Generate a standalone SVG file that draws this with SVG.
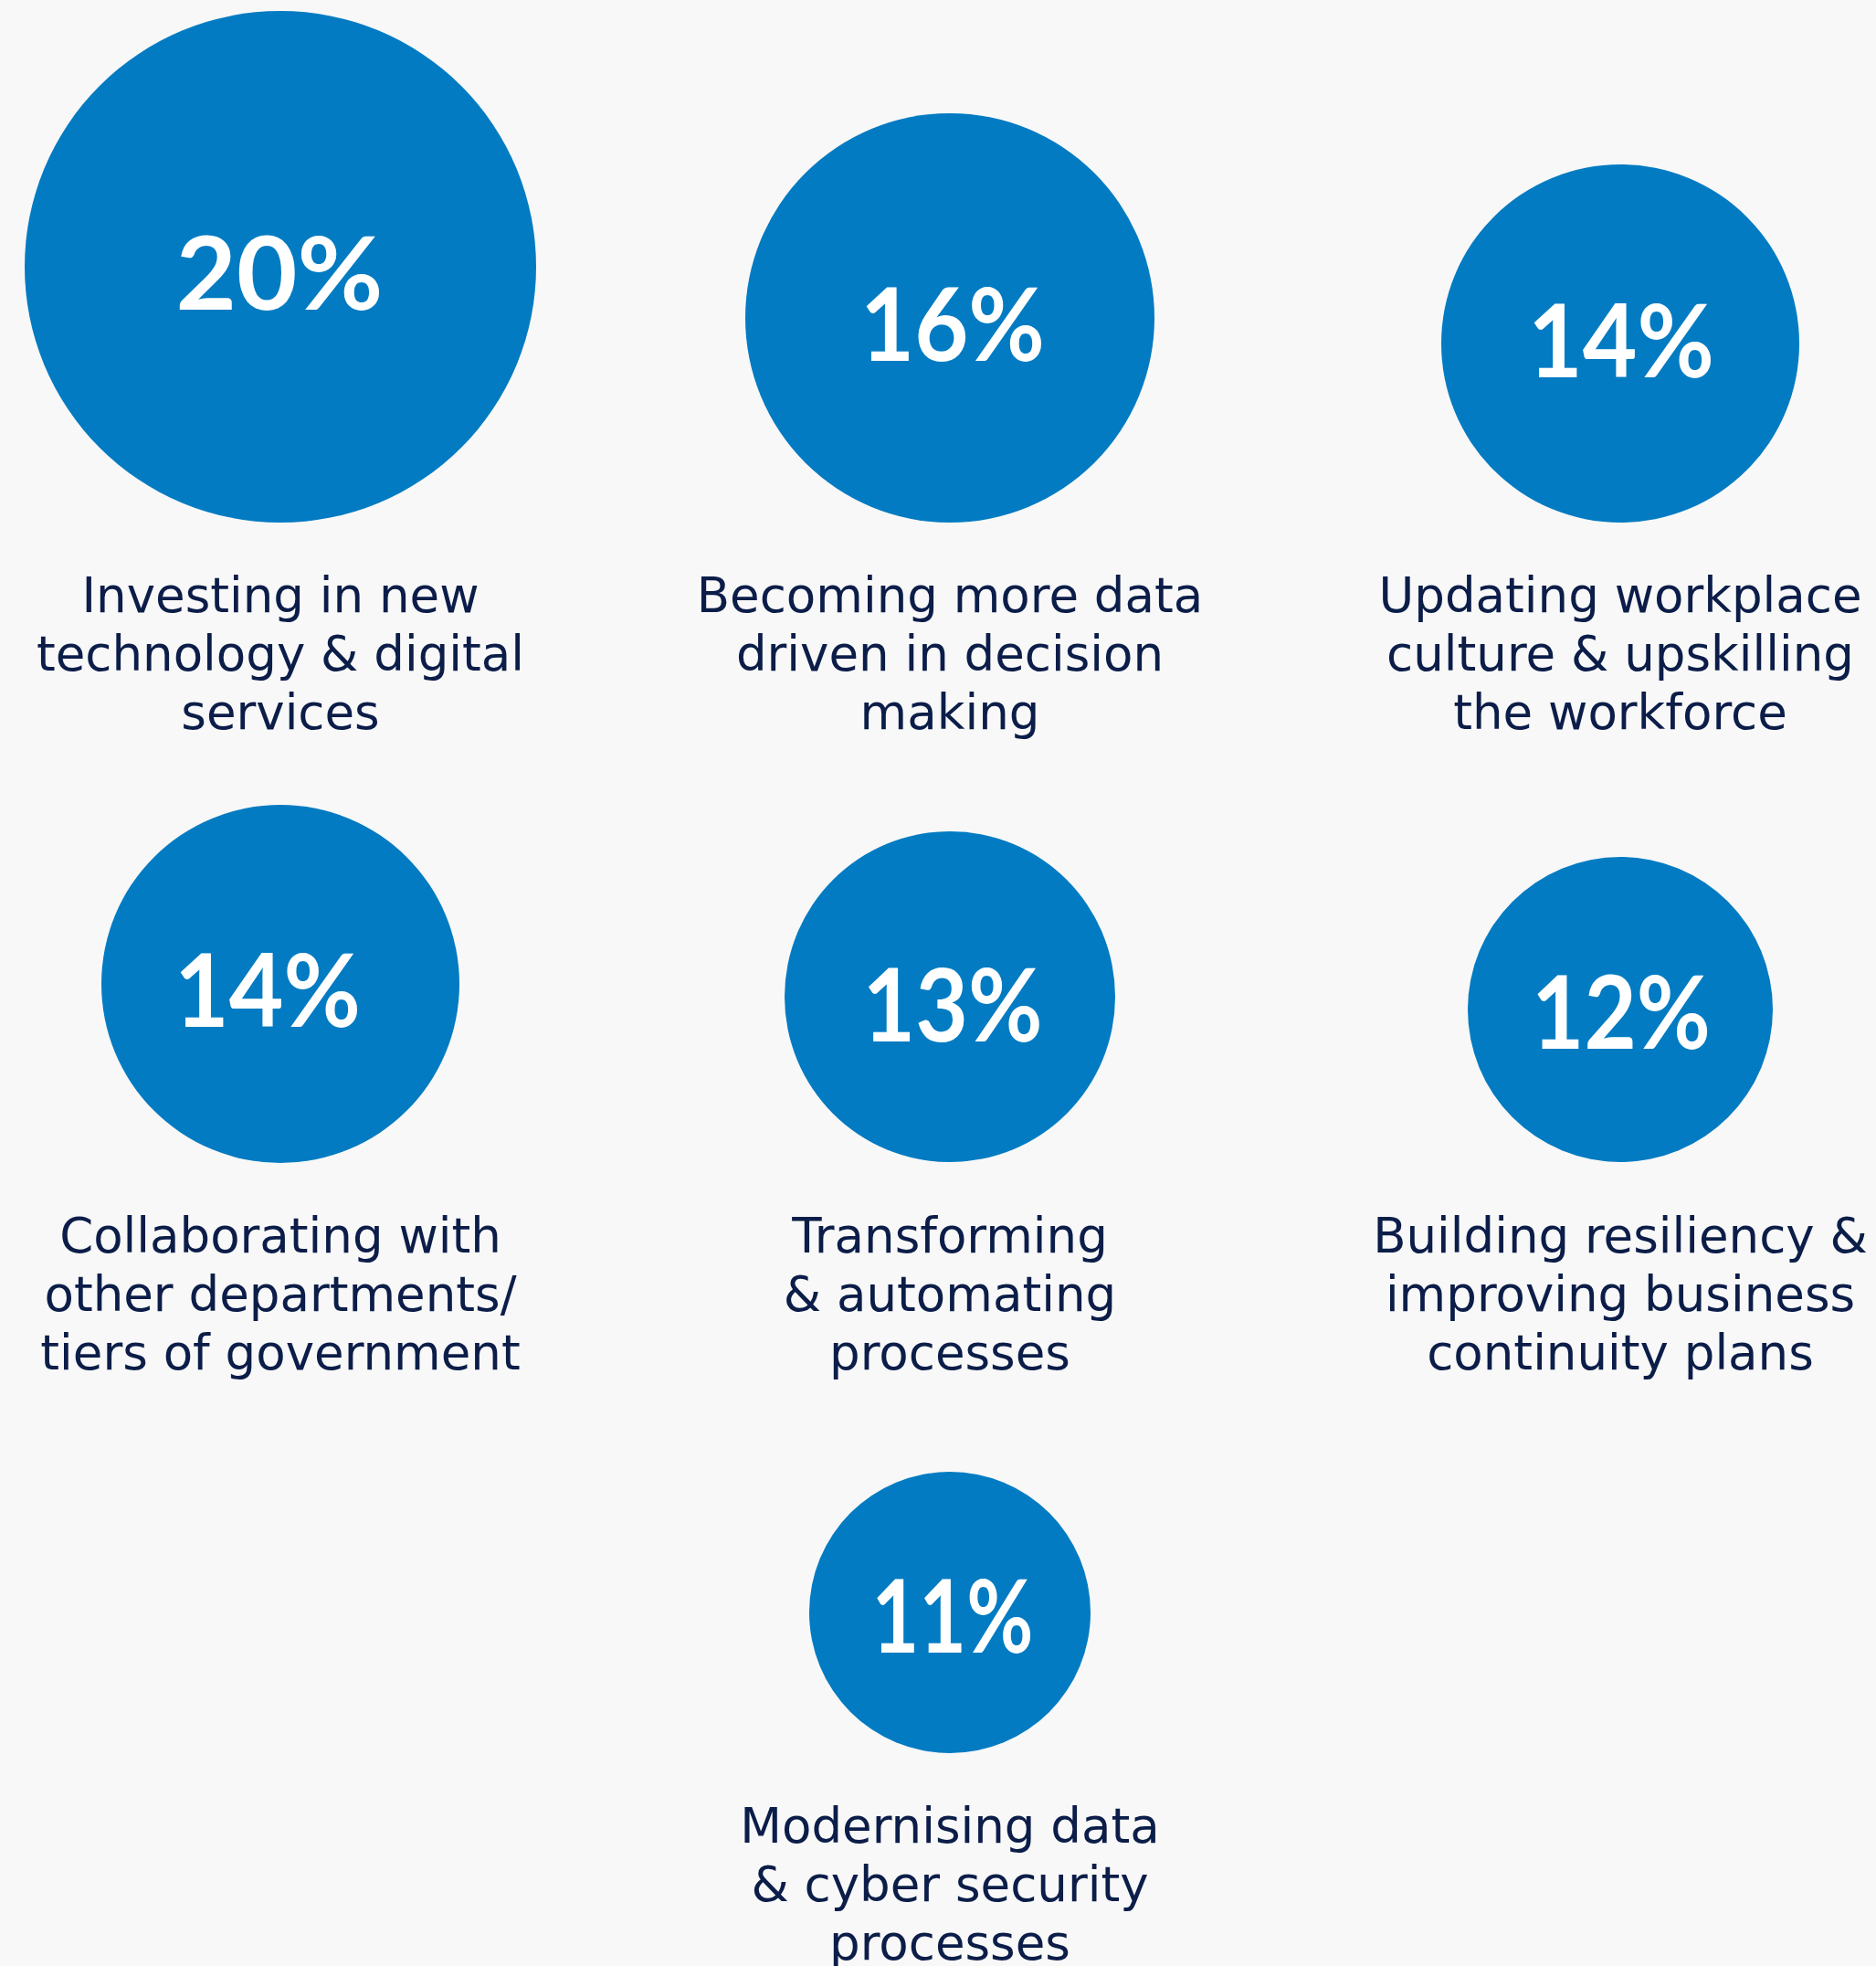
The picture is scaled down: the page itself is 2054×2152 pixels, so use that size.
<svg xmlns="http://www.w3.org/2000/svg" width="2054" height="2152" viewBox="0 0 2054 2152">
<style>
.bg{fill:#f8f8f8}
.c{fill:#027bc2}
.p{font-family:Lato,"Liberation Sans",sans-serif;font-weight:700;font-size:112px;fill:#ffffff;text-anchor:middle}
.l{font-family:"DejaVu Sans","Liberation Sans",sans-serif;font-size:53px;fill:#0b1d48;text-anchor:middle}
</style>
<rect class="bg" x="0" y="0" width="2054" height="2152"/>
<g id="connectors"/>
<g id="n1">
<circle class="c" cx="307" cy="292" r="280"/>
<text class="p" x="306" y="339" textLength="227" lengthAdjust="spacingAndGlyphs">20%</text>
<text class="l" x="307" y="670">Investing in new</text>
<text class="l" x="307" y="734">technology &amp; digital</text>
<text class="l" x="307" y="798">services</text>
</g>
<g id="n2">
<circle class="c" cx="1040" cy="348" r="224"/>
<text class="p" x="1043" y="395" textLength="202" lengthAdjust="spacingAndGlyphs">16%</text>
<text class="l" x="1040" y="670">Becoming more data</text>
<text class="l" x="1040" y="734">driven in decision</text>
<text class="l" x="1040" y="798">making</text>
</g>
<g id="n3">
<circle class="c" cx="1774" cy="376" r="196"/>
<text class="p" x="1775" y="413" textLength="204" lengthAdjust="spacingAndGlyphs">14%</text>
<text class="l" x="1774" y="670">Updating workplace</text>
<text class="l" x="1774" y="734">culture &amp; upskilling</text>
<text class="l" x="1774" y="798">the workforce</text>
</g>
<g id="n4">
<circle class="c" cx="307" cy="1077" r="196"/>
<text class="p" x="293" y="1124" textLength="204" lengthAdjust="spacingAndGlyphs">14%</text>
<text class="l" x="307" y="1371">Collaborating with</text>
<text class="l" x="307" y="1435">other departments/</text>
<text class="l" x="307" y="1499">tiers of government</text>
</g>
<g id="n5">
<circle class="c" cx="1040" cy="1091" r="181"/>
<text class="p" x="1043" y="1140" textLength="197" lengthAdjust="spacingAndGlyphs">13%</text>
<text class="l" x="1040" y="1371">Transforming</text>
<text class="l" x="1040" y="1435">&amp; automating</text>
<text class="l" x="1040" y="1499">processes</text>
</g>
<g id="n6">
<circle class="c" cx="1774" cy="1105" r="167"/>
<text class="p" x="1775" y="1148" textLength="196" lengthAdjust="spacingAndGlyphs">12%</text>
<text class="l" x="1774" y="1371">Building resiliency &amp;</text>
<text class="l" x="1774" y="1435">improving business</text>
<text class="l" x="1774" y="1499">continuity plans</text>
</g>
<g id="n7">
<circle class="c" cx="1040" cy="1765" r="154"/>
<text class="p" x="1043" y="1809" textLength="177" lengthAdjust="spacingAndGlyphs">11%</text>
<text class="l" x="1040" y="2017">Modernising data</text>
<text class="l" x="1040" y="2081">&amp; cyber security</text>
<text class="l" x="1040" y="2145">processes</text>
</g>
</svg>
